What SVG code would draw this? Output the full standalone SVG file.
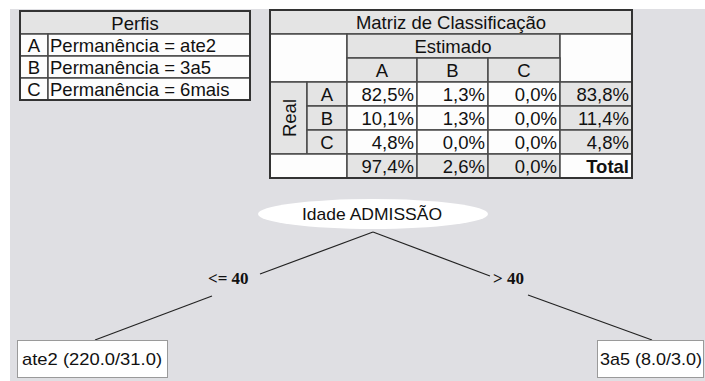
<svg xmlns="http://www.w3.org/2000/svg" width="705" height="381" viewBox="0 0 705 381">
<style>
text{font-family:"Liberation Sans",Arial,sans-serif;font-size:18.5px;fill:#111;dominant-baseline:central}
.c{text-anchor:middle}
.r{text-anchor:end}
.h{fill:#e4e4e4;stroke:#4a4a4a;stroke-width:1.5}
.w{fill:#fdfdfd;stroke:#4a4a4a;stroke-width:1.5}
.out{fill:none;stroke:#333;stroke-width:2}
.edge{stroke:#222;stroke-width:1.2;fill:none}
.el{font-family:"Liberation Serif","Times New Roman",serif;font-weight:bold;font-size:17px}
.leaf{fill:#fff;stroke:#9a9a9a;stroke-width:1}
.nt{font-size:17px}
</style>
<rect x="0" y="0" width="705" height="381" fill="#fff"/>
<rect x="10" y="9" width="695" height="372" fill="#dfdfe3"/>

<g id="perfis">
<rect class="h" x="20" y="11" width="230" height="23"/>
<text class="c" x="135" y="23">Perfis</text>
<rect class="w" x="20" y="34" width="28" height="22"/>
<rect class="w" x="48" y="34" width="202" height="22"/>
<rect class="w" x="20" y="56" width="28" height="22"/>
<rect class="w" x="48" y="56" width="202" height="22"/>
<rect class="w" x="20" y="78" width="28" height="22"/>
<rect class="w" x="48" y="78" width="202" height="22"/>
<text class="c" x="34" y="45.5">A</text>
<text x="50" y="45.5">Permanência = ate2</text>
<text class="c" x="34" y="67.5">B</text>
<text x="50" y="67.5">Permanência = 3a5</text>
<text class="c" x="34" y="89.5">C</text>
<text x="50" y="89.5">Permanência = 6mais</text>
<rect class="out" x="20" y="11" width="230" height="89"/>
</g>

<g id="matriz">
<rect class="h" x="270" y="10" width="362" height="24"/>
<text class="c" x="451" y="22.5">Matriz de Classificação</text>
<rect class="w" x="270" y="34" width="77" height="48"/>
<rect class="h" x="347" y="34" width="213" height="24"/>
<text class="c" x="453" y="46.5">Estimado</text>
<rect class="w" x="560" y="34" width="72" height="48"/>
<rect class="h" x="347" y="58" width="70" height="24"/>
<rect class="h" x="417" y="58" width="71" height="24"/>
<rect class="h" x="488" y="58" width="72" height="24"/>
<text class="c" x="382" y="70.5">A</text>
<text class="c" x="452.5" y="70.5">B</text>
<text class="c" x="524" y="70.5">C</text>
<rect class="h" x="270" y="82" width="37" height="72"/>
<text class="c" transform="translate(289,118) rotate(-90)">Real</text>
<rect class="h" x="307" y="82" width="40" height="24"/>
<rect class="h" x="307" y="106" width="40" height="24"/>
<rect class="h" x="307" y="130" width="40" height="24"/>
<text class="c" x="327" y="94.5">A</text>
<text class="c" x="327" y="118.5">B</text>
<text class="c" x="327" y="142.5">C</text>
<rect class="w" x="347" y="82" width="70" height="24"/>
<rect class="w" x="417" y="82" width="71" height="24"/>
<rect class="w" x="488" y="82" width="72" height="24"/>
<rect class="h" x="560" y="82" width="72" height="24"/>
<rect class="w" x="347" y="106" width="70" height="24"/>
<rect class="w" x="417" y="106" width="71" height="24"/>
<rect class="w" x="488" y="106" width="72" height="24"/>
<rect class="h" x="560" y="106" width="72" height="24"/>
<rect class="w" x="347" y="130" width="70" height="24"/>
<rect class="w" x="417" y="130" width="71" height="24"/>
<rect class="w" x="488" y="130" width="72" height="24"/>
<rect class="h" x="560" y="130" width="72" height="24"/>
<rect class="w" x="270" y="154" width="77" height="24"/>
<rect class="h" x="347" y="154" width="70" height="24"/>
<rect class="h" x="417" y="154" width="71" height="24"/>
<rect class="h" x="488" y="154" width="72" height="24"/>
<rect class="w" x="560" y="154" width="72" height="24"/>
<text class="r" x="414" y="94.5">82,5%</text>
<text class="r" x="485" y="94.5">1,3%</text>
<text class="r" x="557" y="94.5">0,0%</text>
<text class="r" x="629" y="94.5">83,8%</text>
<text class="r" x="414" y="118.5">10,1%</text>
<text class="r" x="485" y="118.5">1,3%</text>
<text class="r" x="557" y="118.5">0,0%</text>
<text class="r" x="629" y="118.5">11,4%</text>
<text class="r" x="414" y="142.5">4,8%</text>
<text class="r" x="485" y="142.5">0,0%</text>
<text class="r" x="557" y="142.5">0,0%</text>
<text class="r" x="629" y="142.5">4,8%</text>
<text class="r" x="414" y="166.5">97,4%</text>
<text class="r" x="485" y="166.5">2,6%</text>
<text class="r" x="557" y="166.5">0,0%</text>
<text class="r" x="629" y="166.5" font-weight="bold">Total</text>
<rect class="out" x="270" y="10" width="362" height="168"/>
</g>

<g id="connectors">
<line class="edge" x1="373" y1="232" x2="260" y2="274"/>
<line class="edge" x1="373" y1="232" x2="490" y2="276"/>
<line class="edge" x1="212" y1="296" x2="95" y2="340"/>
<line class="edge" x1="528" y1="295" x2="652" y2="340"/>
<text class="el" x="208" y="278">&lt;= 40</text>
<text class="el" x="493" y="278">&gt; 40</text>
</g>

<g id="node-idade">
<ellipse cx="373" cy="214" rx="115" ry="15" fill="#fff"/>
<text class="c nt" x="372" y="214" textLength="140" lengthAdjust="spacingAndGlyphs">Idade ADMISSÃO</text>
</g>

<g id="node-ate2">
<rect class="leaf" x="17.5" y="340.5" width="150" height="37"/>
<text class="nt" x="22" y="359" textLength="140" lengthAdjust="spacingAndGlyphs">ate2 (220.0/31.0)</text>
</g>

<g id="node-3a5">
<rect class="leaf" x="597.5" y="340.5" width="106" height="37"/>
<text class="nt" x="600" y="359" textLength="102" lengthAdjust="spacingAndGlyphs">3a5 (8.0/3.0)</text>
</g>
</svg>
